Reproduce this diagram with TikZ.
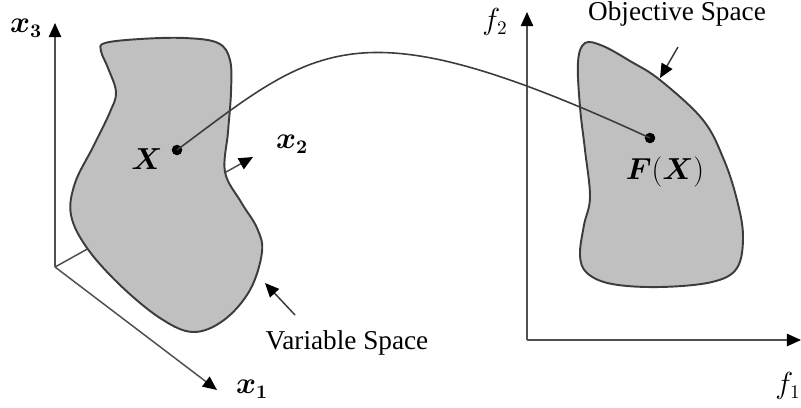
\documentclass[tikz,border=0pt]{standalone}
\usepackage{amsmath}
\usepackage{fontspec}
\setmainfont{Liberation Serif}
\usetikzlibrary{arrows.meta}
\definecolor{region}{RGB}{192,192,192}
\definecolor{edge}{RGB}{60,60,60}
\definecolor{axisgray}{RGB}{80,80,80}

\tikzset{
  axis/.style={draw=axisgray, line width=0.85pt, -{Triangle[length=8pt,width=7pt,color=black]}},
  pointer/.style={draw=edge, line width=0.85pt, -{Triangle[length=8pt,width=7pt,color=black]}},
  space/.style={fill=region, draw=edge, line width=1.1pt},
  dot/.style={circle, fill=black, inner sep=0pt, minimum size=6pt},
  label/.style={font=\fontsize{15.5}{18}\selectfont},
  mlabel/.style={font=\fontsize{16}{19}\selectfont}
}

\begin{document}
\begin{tikzpicture}[x=0.02cm, y=-0.02cm]
    \useasboundingbox (0,0) rectangle (801,407);

    % Variable space axes
    \coordinate (O1) at (55,267);
    \coordinate (x1tip) at (217,390);
    \coordinate (x2tip) at (253,157);
    \coordinate (x3tip) at (55,23);
    \draw[axis] (O1) -- (x3tip);
    \draw[axis] (O1) -- (x1tip);
    \draw[axis] (O1) -- (x2tip);
    \node[mlabel] (x1lab) at (252,389) {$\boldsymbol{x_1}$};
    \node[mlabel] (x2lab) at (292,144) {$\boldsymbol{x_2}$};
    \node[mlabel] (x3lab) at (26,28) {$\boldsymbol{x_3}$};

    % Variable space region
    \draw[space] plot[smooth cycle, tension=0.6] coordinates {
      (105,43) (140,39) (185,38) (218,43) (230,60) (231,92) (228,132)
      (225,172) (241,202) (257,228) (262,252) (250,290) (224,320)
      (193,332) (160,318) (120,285) (87,248) (71,215) (75,183)
      (93,147) (110,112) (116,92) (108,68) (101,51)};

    % Objective space axes
    \coordinate (O2) at (527,340);
    \coordinate (f1tip) at (801,340);
    \coordinate (f2tip) at (527,12);
    \draw[axis] (O2) -- (f1tip);
    \draw[axis] (O2) -- (f2tip);
    \node[mlabel] (f1lab) at (788,386) {$f_1$};
    \node[mlabel] (f2lab) at (495,22) {$f_2$};

    % Objective space region
    \draw[space] plot[smooth cycle, tension=0.6] coordinates {
      (585,43) (603,46) (630,61) (660,80) (703,120) (724,160)
      (737,200) (743,236) (737,268) (712,282) (660,287) (612,284)
      (587,273) (580,255) (584,225) (590,197) (585,150) (580,107)
      (578,62)};

    % Mapping
    \node[dot] (X) at (177,150) {};
    \node[dot] (FX) at (650,138) {};
    \node[mlabel] (Xlab) at (147,159) {$\boldsymbol{X}$};
    \node[mlabel] (FXlab) at (665,172) {$\boldsymbol{F}(\boldsymbol{X})$};
    \draw[edge, line width=0.9pt] (X.center) .. controls (318,45) and (355,2) .. (FX.center);

    % Captions
    \node[label] (varlab) at (347,343) {Variable Space};
    \node[label] (objlab) at (677,14) {Objective Space};
    \coordinate (vartip) at (265,283);
    \coordinate (objtip) at (660,78);
    \draw[pointer] (295,315) -- (vartip);
    \draw[pointer] (678,47) -- (objtip);
\end{tikzpicture}
\end{document}
